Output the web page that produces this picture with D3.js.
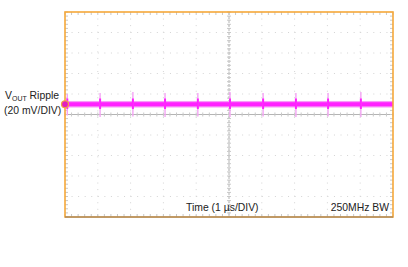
<!DOCTYPE html>
<html>
<head>
<meta charset="utf-8">
<script src="https://cdn.jsdelivr.net/npm/d3@7"></script>
<style>
body { margin: 0; background: #fff; }
text { font-family: "Liberation Sans", Arial, sans-serif; font-size: 10.4px; fill: #222; }
</style>
</head>
<body>
<script>
// scope settings: 10 divisions each way
var timeDomain = [-5, 5];      // us
var voltDomain = [-100, 100];  // mV, 20 mV/div
// ripple band (mV)
var bandLevel = 10.0;
var bandHalf = 2.6;
// switching spikes (us) and their extremes (mV)
var spikeTimes = [-4.93, -3.93, -2.93, -1.95, -0.95, 0.03, 1.04, 2.04, 3.02, 4.02];
var spikeHigh = [20, 21, 22, 21, 21, 22, 21, 21, 21, 22];
var spikeLow = [-1, -2.4, -2, -2.4, -2, -2.4, -2, -2.4, -2, -2.4];
var labelLines = ["Ripple", "(20 mV/DIV)"];
var timeLabel = "Time (1 \u00b5s/DIV)";
var bwLabel = "250MHz BW";

var margin, width, height;
function create_axis()
{
    margin = {top: 12, right: 15, bottom: 50, left: 65},
    width = 408 - margin.left - margin.right,
    height = 267 - margin.top - margin.bottom;
}
create_axis();

var svg = d3.select("body").append("svg")
    .attr("width", 408).attr("height", 267);
var g = svg.append("g")
    .attr("transform", "translate(" + margin.left + "," + margin.top + ")");

var x = d3.scaleLinear().domain(timeDomain).range([0, width]);
var y = d3.scaleLinear().domain(voltDomain).range([height, 0]);

var xDiv = d3.range(-5, 5.01, 1);
var yDiv = d3.range(-100, 100.1, 20);
var xMinor = d3.range(-5, 5.001, 0.2);
var yMinor = d3.range(-100, 100.01, 4);

// dotted grid
g.selectAll(".gx").data(xDiv.slice(1, -1)).enter().append("line")
    .attr("x1", d => x(d)).attr("x2", d => x(d))
    .attr("y1", 0).attr("y2", height)
    .attr("stroke", "#d4d4d4").attr("stroke-width", 1)
    .attr("stroke-dasharray", "1,5.56");
g.selectAll(".gy").data(yDiv.slice(1, -1)).enter().append("line")
    .attr("y1", d => y(d)).attr("y2", d => y(d))
    .attr("x1", 0).attr("x2", width)
    .attr("stroke", "#d4d4d4").attr("stroke-width", 1)
    .attr("stroke-dasharray", "1,5.56");

// center axes
g.append("line").attr("x1", 0).attr("x2", width).attr("y1", y(0)).attr("y2", y(0))
    .attr("stroke", "#b4b4b4");
g.append("line").attr("x1", x(0)).attr("x2", x(0)).attr("y1", 0).attr("y2", height)
    .attr("stroke", "#b4b4b4").attr("stroke-dasharray", "3,1");

// minor ticks on axes and borders
function tickH(data, yy, len)
{
    g.selectAll(null).data(data).enter().append("line")
        .attr("x1", d => x(d)).attr("x2", d => x(d))
        .attr("y1", yy - len[0]).attr("y2", yy + len[1])
        .attr("stroke", "#c8c8c8");
}
function tickV(data, xx, len)
{
    g.selectAll(null).data(data).enter().append("line")
        .attr("y1", d => y(d)).attr("y2", d => y(d))
        .attr("x1", xx - len[0]).attr("x2", xx + len[1])
        .attr("stroke", "#c8c8c8");
}
tickH(xMinor, y(0), [2, 2]);
tickH(xMinor, 0, [0, 3]);
tickH(xMinor, height, [3, 0]);
tickV(yMinor, x(0), [2, 2]);
tickV(yMinor, 0, [0, 3]);
tickV(yMinor, width, [3, 0]);

// trace: ripple band with soft edges
g.append("rect")
    .attr("x", x(timeDomain[0]))
    .attr("width", x(timeDomain[1]) - x(timeDomain[0]))
    .attr("y", y(bandLevel + bandHalf + 0.6))
    .attr("height", y(bandLevel - bandHalf - 0.6) - y(bandLevel + bandHalf + 0.6))
    .attr("fill", "#f79cf7");
g.append("rect")
    .attr("x", x(timeDomain[0]))
    .attr("width", x(timeDomain[1]) - x(timeDomain[0]))
    .attr("y", y(bandLevel + bandHalf - 0.6))
    .attr("height", y(bandLevel - bandHalf + 0.6) - y(bandLevel + bandHalf - 0.6))
    .attr("fill", "#ff22ff");
// spikes
var spikes = spikeTimes.map((t, i) => ({t: t, hi: spikeHigh[i], lo: spikeLow[i]}));
g.selectAll(".spk").data(spikes).enter().append("line")
    .attr("x1", d => x(d.t)).attr("x2", d => x(d.t))
    .attr("y1", d => y(d.hi)).attr("y2", d => y(d.lo))
    .attr("stroke", "#f4a4f4").attr("stroke-width", 1.4);
g.selectAll(".spk2").data(spikes).enter().append("line")
    .attr("x1", d => x(d.t)).attr("x2", d => x(d.t))
    .attr("y1", d => y(bandLevel + bandHalf + 3)).attr("y2", d => y(bandLevel - bandHalf - 2))
    .attr("stroke", "#ff22ff").attr("stroke-width", 2);

// screen border
g.append("rect").attr("x", 0).attr("y", 0).attr("width", width).attr("height", height)
    .attr("fill", "none").attr("stroke", "#f5a83a").attr("stroke-width", 1.6);
g.append("line").attr("x1", 0).attr("x2", width).attr("y1", height).attr("y2", height)
    .attr("stroke", "#8a7a6a").attr("stroke-width", 1);

// ground marker
g.append("circle").attr("cx", 0).attr("cy", y(bandLevel)).attr("r", 3.5)
    .attr("fill", "#e020c0").attr("stroke", "#f5a83a").attr("stroke-width", 1.2);

// labels
var lab = svg.append("text").attr("x", 5).attr("y", 99);
lab.append("tspan").text("V");
lab.append("tspan").attr("font-size", "7px").attr("dy", 1.5).text("OUT");
lab.append("tspan").attr("dy", -1.5).text(" " + labelLines[0]);
svg.append("text").attr("x", 4).attr("y", 113.5).text(labelLines[1]);

g.append("text").attr("x", x(0) - 43).attr("y", height - 6).text(timeLabel);
g.append("text").attr("x", width - 4).attr("y", height - 6)
    .attr("text-anchor", "end").text(bwLabel);
</script>
</body>
</html>
